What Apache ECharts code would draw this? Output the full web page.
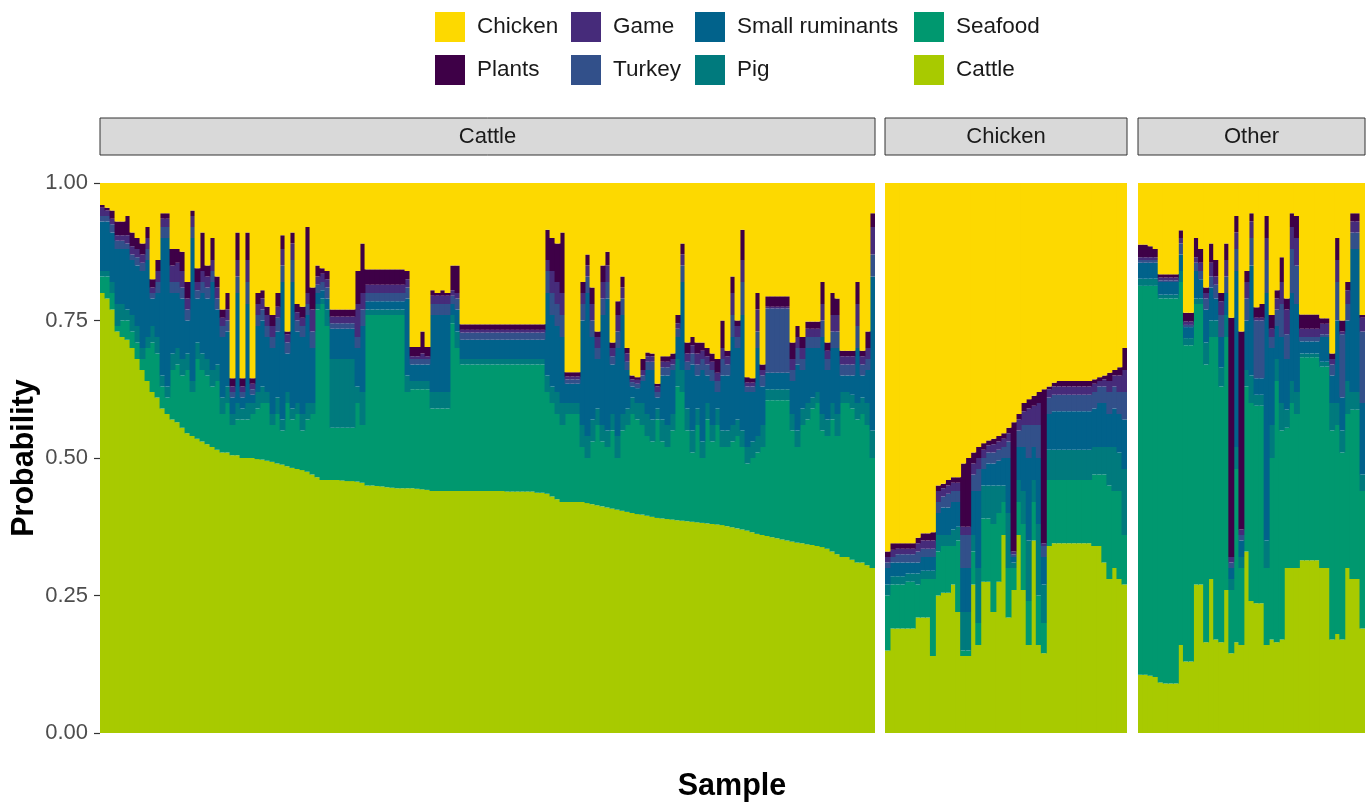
<!DOCTYPE html>
<html><head><meta charset="utf-8">
<script src="https://cdn.jsdelivr.net/npm/echarts@6/dist/echarts.min.js"></script>
<style>html,body{margin:0;padding:0;background:#fff}#chart{width:1367px;height:803px}</style>
</head><body><div id="chart"></div>
<script>
// Layers bottom -> top
const layerNames = ['Cattle','Seafood','Pig','Small ruminants','Turkey','Game','Plants','Chicken'];
const layerColors = ['#A8CA00','#00986F','#007A7D','#01628B','#32508A','#462B7A','#3E0047','#FDD900'];
const facetNames = ['Cattle','Chicken','Other'];
const yTickLabels = ['0.00','0.25','0.50','0.75','1.00'];

// ---- Facet "Cattle": cumulative upper boundary (%) of each layer, per sample ----
const cf_cattle = [80,79,77,73,72,71.5,70,68,66,64, 62,61,59,58,57,56.5,55.5,54.5,54,53.5, 53,52.5,52,51.5,51,51,50.5,50.5,50,50,
 50,49.8,49.7,49.5,49.3,49,48.8,48.5,48.2,48, 47.8,47.5,47,46.5,46,46,46,46,45.9,45.8, 45.8,45.7,45.5,45,45,44.9,44.8,44.7,44.6,44.5,
 44.5,44.5,44.5,44.4,44.3,44.2,44,44,44,44, 44,44,44,44,44,44,44,44,44,44, 44,43.9,43.9,43.9,43.9,43.9,43.9,43.7,43.7,43.5,
 43,42.5,42,42,42,42,42,41.8,41.6,41.4, 41.2,41,40.8,40.6,40.4,40.2,40,39.8,39.7,39.5, 39.3,39.1,39,38.9,38.8,38.7,38.6,38.5,38.4,38.3,
 38.2,38.1,38,37.9,37.8,37.6,37.4,37.2,37,36.8, 36.5,36.2,36,35.8,35.6,35.4,35.2,35,34.8,34.6, 34.5,34.3,34.2,34,33.8,33.5,33,32.5,32,32,
 31.5,31,31,30.5,30];
const cf_seafood = [83,83,80,74,75,75,73,71,68,70, 71,69,63,61,66,67,65,66,62,68, 66,65,63,64,58,60,56,57,57,57,
 58,59,60,60,56,58,55,60,57,58, 55,57,58,77,78,74,55.5,55.5,55.5,55.5, 55.5,60,56,76,76,76,76,76,76,76,
 76,62,62.5,62.5,62.5,62.5,59,59,59,59, 74.5,70,67,67,67,67,67,67,67,67, 67,67,67,67,67,67,67,67,67,62,
 60,58,56,58,58,58,52,50,53,56, 53,52,55,50,55,56,58,57,56,54, 53,57,53,52,55,63,62,55,51,56,
 50,57,53,56,52,52,53,54,52,49, 50,51,52,60.5,60.5,60.5,60.5,60.5,55,52, 56,57,59,60,55,54,57,54,60,60,
 59,57,58,56,50];
const cf_pig = [84,84,82,78,78,77,76,74,70,72, 74,72,65,63,69,70,68,69,64,71, 69,68,66,67,61,63,58,60,59,60,
 60,62,63,62,58,61,57,62,59,60, 58,60,60,78,79,77,68,68,68,68, 68,63,62,77,77,77,77,77,77,77,
 77,65,64,64,64,64,62,62,62,62, 76,73,68,68,68,68,68,68,68,68, 68,68,68,68,68,68,68,68,68,65,
 63,62,60,60,60,60,56,54,57,59, 56,55,58,54,58,59,61,60,60,58, 57,59,57,56,58,68,66,59,55,59,
 53,60,56,59,55,55,56,57,55,52, 53,54,56,62.5,62.5,62.5,62.5,62.5,58,55, 59,60,61,62,58,57,60,58,62,62,
 61.5,60,61,60,55];
const cf_smallRum = [93,93,91,88,88,88,86,85,84,86, 79,80,90,90,80,80,79,75,90,79, 80,79,82,77,72,73,61,80,61,78,
 61.5,74,75,72,70,73,82,69,82,73, 72,76,70,80,80.5,79,73.5,73.5,73.5,73.5, 73.5,70,74,78.5,78.5,78.5,78.5,78.5,78.5,78.5,
 78.5,79,67,67,67,67,76,76,76,76, 78,77,71.5,71.5,71.5,71.5,71.5,71.5,71.5,71.5, 71.5,71.5,71.5,71.5,71.5,71.5,71.5,71.5,71.5,80,
 76,74,72,63.5,63.5,63.5,75,80,72,68, 76,79,67,70,76,66,63,62.7,64,66, 66,61,65,65,66,72,82,66,67,65,
 66,65,64,62,65,65,72,70,76,62, 62,70,63,65.5,65.5,65.5,65.5,65.5,64,67, 66,70,70,70,72,66,70,70,65,65,
 65,70,65,66,83];
const cf_turkey = [94,94,92.5,89.5,89.5,89,87,86.5,85.5,88, 80,82,92,92,82,82,81,77,92,80.5, 82,81,84,79,74,75,62,83,62,82,
 62.5,76,77,74,72,75.5,85,71,86,75, 74,78,73,81.5,82,81,74.5,74.5,74.5,74.5, 74.5,72,77,80,80,80,80,80,80,80,
 80,81,68,68,68,68,78,78,78,78, 79.5,79,72.8,72.8,72.8,72.8,72.8,72.8,72.8,72.8, 72.8,72.8,72.8,72.8,72.8,72.8,72.8,72.8,72.8,84,
 80,78,76,64.3,64.3,64.3,78,83,75,70, 79,82,68.5,73,79,67.5,63.8,63.5,65,67.5, 67.5,62,66.5,66.5,67,73.5,85,67.5,69,67,
 68,67,66,64,68,67,76,72,82,63, 63,73,65,77.2,77.2,77.2,77.2,77.2,66,70, 68,72,72,72,75,68,73,73,67,67,
 67,74,67,68,87];
const cf_game = [95.5,95,93.5,90.5,90.5,90.5,88.5,88,87,90, 81,84,93.5,93.5,85,85.5,84,79,94,82, 84,83,86,81,75.5,77,63,86,63,86,
 63.5,78,79,76,74,77.5,88,72.5,89,76.5, 75.5,80,77,83,83.5,82.5,75.7,75.7,75.7,75.7, 75.7,78,80,81.5,81.5,81.5,81.5,81.5,81.5,81.5,
 81.5,82.5,68.5,68.5,69,68.5,79.5,79.5,79.5,79.5, 80.5,80,73.3,73.3,73.3,73.3,73.3,73.3,73.3,73.3, 73.3,73.3,73.3,73.3,73.3,73.3,73.3,73.3,73.3,86,
 84,82,80,64.8,64.8,64.8,80,85,78,72, 82,85,70,76,81,69,64.3,64.2,66,68.5, 68.5,63,67.5,67.5,68,74.5,87,69,70.5,69,
 69.5,68.5,67.5,65.5,70,68.5,80,74,86,63.7, 63.7,77,66,77.5,77.5,77.5,77.5,77.5,68,72, 70,73.5,73.5,73.5,78,69.5,76,76,68.5,68.5,
 68.5,78,68.5,70,92];
const cf_plants = [96,95.5,95,93,93,94,91,90,89,92, 82.5,86,94.5,94.5,88,88,87.5,82,95,84.5, 91,85,90,83,77,80,64.5,91,64.5,91,
 64.5,80,80.5,77.5,76,80,90.5,73,91,78, 77.5,92,81,85,84.5,84,77,77,77,77, 77,84,89,84.3,84.3,84.3,84.3,84.3,84.3,84.3,
 84.3,84,70.2,70.2,73,70.2,80.5,80,80.5,80, 85,85,74.3,74.3,74.3,74.3,74.3,74.3,74.3,74.3, 74.3,74.3,74.3,74.3,74.3,74.3,74.3,74.3,74.3,91.5,
 90,89,91,65.6,65.6,65.6,82,87,81,73, 85,87.5,71,78.5,83,70,65,64.7,68,69.2, 69,63.5,68.5,68.5,69,76,89,71,72,71,
 71,70,69,68,75,69.5,83,75,91.5,64.7, 64.5,80,67,79.4,79.4,79.4,79.4,79.4,71,74, 72,74.8,74.8,74.8,82,71,80,79,69.5,69.5,
 69.5,82,69.5,73,94.5];

// ---- Facet "Chicken" ----
const hf_cattle = [15,19,19,19,19,19,21,21,21,14, 25,25.5,25.5,27,22,14,14,27,16,27.5, 27.5,22,27.5,36,21,26,36,26,16,35,
 16,14.5,34,34.5,34.5,34.5,34.5,34.5,34.5,34.5, 34.5,34,34,31,28,30,28,27];
const hf_seafood = [25,27,27,27,27.5,27.5,27,28,28,28, 33,34,34,34,35,15,15,33,20,39, 39,38,40,42,30,30,42,38,24,42,
 25,20,46,46,46,46,46,46,46,46, 46,47,47,47,45,44,44,36];
const hf_pig = [27,28.5,28.5,28.5,29,29,29,29.5,29.5,29.5, 36,36,36,37,37.5,22,22,36,30,45, 45,45,45,45,40,31,46,44,35,46,
 38,27,51.5,51.5,51.5,51.5,51.5,51.5,51.5,51.5, 51.5,52,52,52,52,52,51,48];
const hf_smallRum = [30,31,31,31,31,31,31,32,32,32, 40,41,41,42,42,30,30,44,44,48, 49,49,49.5,50,50,32,52,52,50,52,
 50,32,58,58.5,58.5,58.5,58.5,58.5,58.5,58.5, 58.5,59,60,60,58,59,58,57];
const hf_turkey = [31,32,32.5,32.5,32.5,32.5,33,33.5,33.5,33.5, 42,43,43.5,44,44,36,36,47,48,50, 51,51,51.5,52,53,32.5,55,56,56,56,
 56,34,61,61.5,61.5,61.5,61.5,61.5,61.5,61.5, 61.5,62,63,63,62,63,62,62];
const hf_game = [32,33.3,33.5,33.5,33.5,33.5,34.5,35,35,35, 44,44.5,45,45.5,45.5,37.5,37.5,49,50,51.5, 52.3,52.5,53,53.5,54.5,33,57,58.5,59,59.5,
 60,34.5,62.5,63,63,63,63,63,63,63, 63,63.5,64,64.3,64,65,65,66];
const hf_plants = [33,34.5,34.5,34.5,34.5,34.5,35.5,36.3,36.3,36.5, 45,45.3,46,46.5,46.5,49,50,51,52,52.7, 53.2,53.5,54,54.5,55.5,56.5,58,60,60.7,61.3,
 62,62.5,63,63.7,64,64,64,64,64,64, 64,64.3,64.7,65,65.5,66,66.5,70];

// ---- Facet "Other" ----
const of_cattle = [10.6,10.6,10.4,10.2,9.2,9,9,9,16,13, 13,27,27,16.5,28,17,16.5,26,14.5,16.5, 16,33,24,23.6,23.6,16,17,16.5,17,30,
 30,30,31.4,31.4,31.4,31.4,30,30,17,18, 17,30,28,28,19];
const of_seafood = [81.3,81.3,81.3,81.3,79,79,79,79,82,70.5, 70.5,78,78,67,72,72,63,72,26,48, 30,63,60,59.5,59.5,30,50,64,55,55.5,
 60,58,68.3,68.3,68.3,68.3,66.6,66.6,55,56, 51,58,58.8,58.8,44];
const of_pig = [82.6,82.6,82.6,82.6,79.7,79.7,79.7,79.7,84,71.8, 71.8,79,79,71,75,75,66.5,76,28,52, 32,66,65,61.5,61.5,35,56,68,60,58.8,
 64,62,69,69,69,69,67.5,67.5,60,60, 55,64,62,62,47];
const of_smallRum = [85.5,85.5,85.5,85.5,82,82,82,82,87,73.8, 73.8,84,82.5,77,81,79,72,80,30,84, 35,75,85,64.5,64.5,80,70,74,72,68,
 80,78,71.2,71.2,71.2,71.2,72,72,65,75, 61,75,88,88,60];
const of_turkey = [86,86,86,86,82.3,82.3,82.3,82.3,89,74.2, 74.2,85.5,84,79,83,81.5,76,83,31,88, 36,79,90,75,75,86,72,77,78,72.5,
 88,85,72,72,72,72,72.5,72.5,67,82, 72.5,78,91,91,73];
const of_game = [86.5,86.5,86.5,86.5,82.8,82.8,82.8,82.8,90,74.8, 74.8,86.5,85.5,80,85.5,83,78.5,86,32,91, 37,82,93,75.5,75.5,90,73.5,79,82,77,
 92,90,73.5,73.5,73.5,73.5,74.4,74.4,68,86, 73,80.5,93,93,75.5];
const of_plants = [88.8,88.8,88.5,88,83.4,83.4,83.4,83.4,91.4,76.4, 76.4,90,88,81,89,86,80,89,75.5,94, 73,84,94.5,77.4,78,94,76,80.5,86.5,79,
 94.5,94,76.1,76.1,76.1,76.1,75.4,75.4,69,90, 75,82,94.5,94.5,76];

const facetTops = [
  [cf_cattle, cf_seafood, cf_pig, cf_smallRum, cf_turkey, cf_game, cf_plants],
  [hf_cattle, hf_seafood, hf_pig, hf_smallRum, hf_turkey, hf_game, hf_plants],
  [of_cattle, of_seafood, of_pig, of_smallRum, of_turkey, of_game, of_plants]
];

const FONT = '"Liberation Sans", Arial, Helvetica, sans-serif';
const panels = [
  {left:100, width:775},
  {left:885, width:242},
  {left:1138, width:227}
];
const PTOP = 183, PH = 550;

const grid = [], xAxis = [], yAxis = [], series = [];
facetTops.forEach((tops, fi) => {
  const n = tops[0].length;
  grid.push({left: panels[fi].left, top: PTOP, width: panels[fi].width, height: PH,
    containLabel: false, outerBoundsMode: 'none'});
  xAxis.push({type:'category', gridIndex: fi, data: Array.from({length:n}, (_, i) => facetNames[fi] + ' ' + (i + 1)),
    show: false, boundaryGap: true});
  yAxis.push({type:'value', gridIndex: fi, min: 0, max: 1, interval: 0.25, show: fi === 0,
    axisLine:{show:false}, splitLine:{show:false},
    axisTick:{show:true, length:6, lineStyle:{color:'#333', width:1.2}},
    axisLabel:{fontSize:22, color:'#4d4d4d', margin:12, fontFamily: FONT,
      formatter: v => yTickLabels[Math.round(v / 0.25)]},
    name: fi === 0 ? 'Probability' : '', nameLocation:'middle', nameGap: 60, nameRotate: 90,
    nameMoveOverlap: false,
    nameTextStyle:{fontSize:30.5, fontWeight:'bold', color:'#000', fontFamily: FONT}
  });
  for (let li = 0; li < layerNames.length; li++) {
    const data = [];
    for (let k = 0; k < n; k++) {
      const lower = li === 0 ? 0 : tops[li - 1][k];
      const upper = li < 7 ? tops[li][k] : 100;
      data.push(Math.max(0, upper - lower) / 100);
    }
    series.push({
      name: layerNames[li], type: 'bar', xAxisIndex: fi, yAxisIndex: fi, stack: 'facet' + fi,
      barWidth: '118%', data: data, silent: true,
      itemStyle: {color: layerColors[li]},
      emphasis: {disabled: true}
    });
  }
});

const legendCols = [
  {left:435, data:['Chicken','Plants']},
  {left:571, data:['Game','Turkey']},
  {left:695, data:['Small ruminants','Pig']},
  {left:914, data:['Seafood','Cattle']}
];
const legend = legendCols.map(c => ({
  orient:'vertical', left: c.left, top: 12, padding: 0, itemWidth: 30, itemHeight: 30, itemGap: 13,
  icon: 'rect', selectedMode: false, data: c.data,
  textStyle: {fontSize: 22.5, color: '#1a1a1a', fontFamily: FONT, padding: [0, 0, 0, 7]}
}));

const graphic = [];
panels.forEach((p, fi) => {
  graphic.push({type:'rect', shape:{x: p.left, y: 118, width: p.width, height: 37},
    style:{fill:'#d9d9d9', stroke:'#333333', lineWidth:1}, silent:true});
  graphic.push({type:'text', x: p.left + p.width / 2, y: 137,
    style:{text: facetNames[fi], fontSize: 22, fill:'#1a1a1a', fontFamily: FONT, align:'center', verticalAlign:'middle'}, silent:true});
});
graphic.push({type:'text', x: 732, y: 787,
  style:{text:'Sample', fontSize: 30.5, fontWeight:'bold', fill:'#000', fontFamily: FONT, align:'center', verticalAlign:'middle'}, silent:true});

const chart = echarts.init(document.getElementById('chart'), null, {renderer:'canvas'});
chart.setOption({
  animation: false, backgroundColor: '#ffffff',
  grid, xAxis, yAxis, series, legend, graphic
});
</script></body></html>
